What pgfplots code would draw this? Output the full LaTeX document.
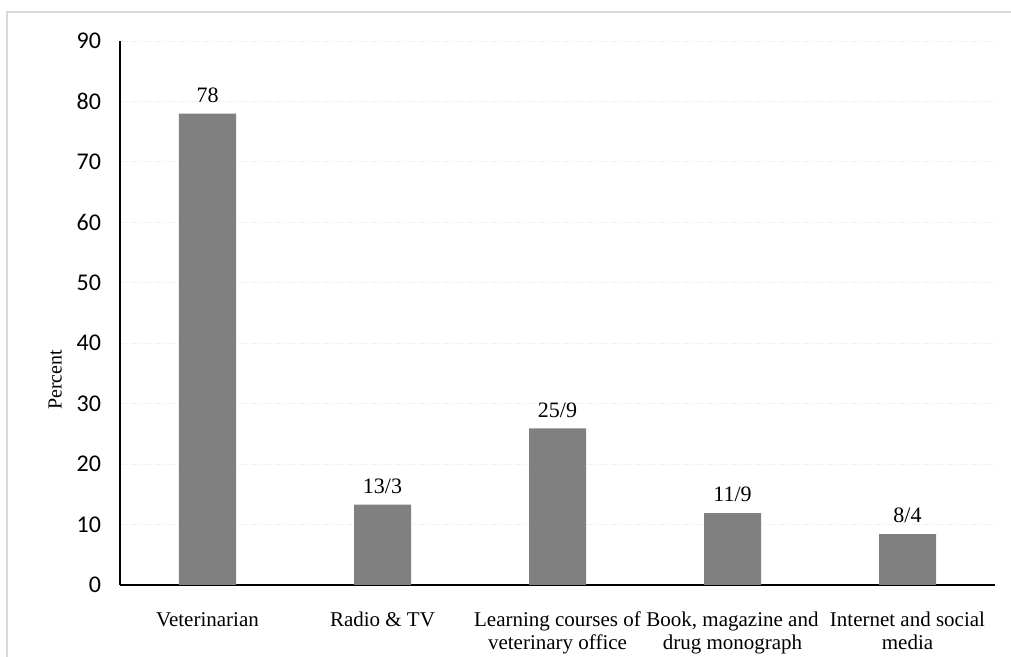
\documentclass[border=0pt]{standalone}
\usepackage{fontspec}
\setmainfont{Liberation Serif}
\newfontfamily\carlito{Carlito}
\usepackage{pgfplots}
\pgfplotsset{compat=1.18}
\usepackage{pgfplotstable}
\pgfplotstableread{
x y lab
0 78.0 78
1 13.3 13/3
2 25.9 25/9
3 11.9 11/9
4 8.4 8/4
}\datatable
\begin{document}
\begin{tikzpicture}[x=1pt,y=1pt]
\useasboundingbox (-60,-36) rectangle (445.5,292.5);
\draw[gray!30, line width=1pt] (-56.5,-80) rectangle (480,286.5);
\begin{axis}[
  at={(0,0)}, anchor=south west,
  scale only axis, width=437.5pt, height=272pt,
  xmin=-0.5, xmax=4.5, ymin=0, ymax=90,
  axis x line*=bottom, axis y line*=left,
  axis line style={line width=1pt, black},
  ytick={0,10,...,90},
  xtick={0,1,2,3,4},
  xticklabels={\strut Veterinarian, \strut Radio \& TV, {\strut Learning courses of\\veterinary office}, {\strut Book, magazine and\\drug monograph}, {\strut Internet and social\\media}},
  major tick length=0pt,
  tick style={draw=none},
  ymajorgrids,
  grid style={gray!15, dash pattern=on 0.6pt off 0.6pt, line width=0.5pt},
  /pgf/number format/assume math mode=true,
  yticklabel style={font=\carlito\fontsize{12}{12}\selectfont, xshift=-6pt},
  xticklabel style={font=\fontsize{10.5}{11.3}\selectfont, align=center, yshift=-9.5pt},
  ylabel={Percent},
  ylabel style={at={(axis description cs:-0.074,0.377)}, anchor=center, font=\fontsize{10}{12}\selectfont},
  ybar, bar width=28.5pt,
  nodes near coords={\pgfplotspointmeta},
  point meta=explicit symbolic,
  every node near coord/.append style={font=\fontsize{11}{12}\selectfont, anchor=south, yshift=2pt},
]
\addplot[fill=black!50, draw=none] table[x=x, y=y, meta=lab] {\datatable};
\end{axis}
\end{tikzpicture}
\end{document}
